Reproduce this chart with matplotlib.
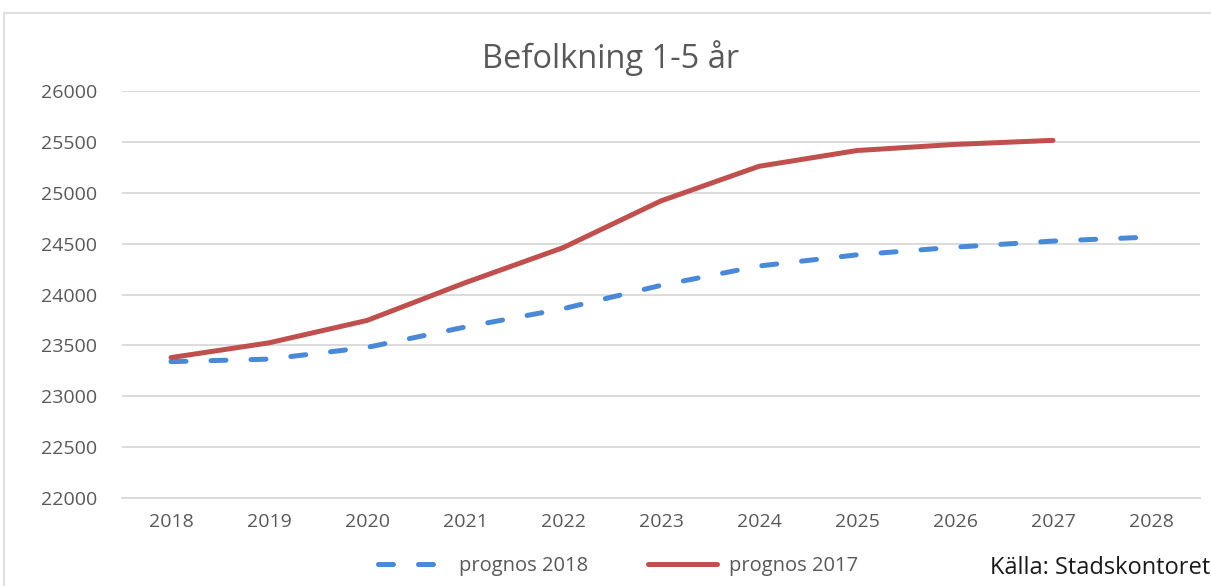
import matplotlib
matplotlib.use("Agg")
import matplotlib.pyplot as plt
from matplotlib.patches import Rectangle

years = ["2018", "2019", "2020", "2021", "2022", "2023", "2024", "2025", "2026", "2027", "2028"]
prognos_2018 = [23340, 23365, 23480, 23680, 23860, 24090, 24280, 24390, 24465, 24525, 24565]
prognos_2017 = [23380, 23525, 23745, 24115, 24460, 24920, 25260, 25415, 25475, 25515]
yticks = [22000, 22500, 23000, 23500, 24000, 24500, 25000, 25500, 26000]

W, H = 1211, 586
fig = plt.figure(figsize=(W / 100, H / 100), dpi=100)
plt.rcParams['font.family'] = ['Open Sans', 'DejaVu Sans']

# chart area frame
fig.patches.append(Rectangle((4 / W, -0.1), 1.2, 1 - 13 / H + 0.1, transform=fig.transFigure,
                             fill=False, edgecolor='#d9d9d9', lw=1.2))

ax = fig.add_axes([122 / W, 1 - 498 / H, (1200 - 122) / W, (498 - 91) / H])
x18 = list(range(len(prognos_2018)))
x17 = list(range(len(prognos_2017)))
ax.plot(x18, prognos_2018, color='#4a89d8', lw=3.6, linestyle=(0, (3, 5)),
        dash_capstyle='round', label='prognos 2018', zorder=3)
ax.plot(x17, prognos_2017, color='#c0504d', lw=3.6, solid_capstyle='round',
        label='prognos 2017', zorder=3)

ax.set_xlim(-0.5, len(years) - 0.5)
ax.set_ylim(22000, 26000)
ax.set_xticks(range(len(years)))
ax.set_xticklabels(years)
ax.set_yticks(yticks)
ax.set_yticklabels([str(v) for v in yticks])
ax.tick_params(length=0, labelsize=14, colors='#595959')
ax.tick_params(axis='x', pad=11)
ax.tick_params(axis='y', pad=18)
ax.grid(axis='y', color='#d9d9d9', lw=1.3)
ax.set_axisbelow(True)
for s in ['top', 'right', 'left']:
    ax.spines[s].set_visible(False)
ax.spines['bottom'].set_color('#d9d9d9')
ax.spines['bottom'].set_linewidth(1.3)

fig.text(611 / W, 1 - 58 / H, 'Befolkning 1-5 år', ha='center', va='center',
         fontsize=23.5, color='#595959')

leg = fig.legend(loc='center', bbox_to_anchor=(618 / W, 1 - 566 / H), ncol=2, frameon=False,
                 fontsize=14.5, handlelength=3.4, columnspacing=3.0, handletextpad=0.6)
for t in leg.get_texts():
    t.set_color('#595959')

fig.text(990 / W, 1 - 568 / H, 'Källa: Stadskontoret', ha='left', va='center',
         fontsize=17, color='#1a1a1a')

fig.savefig('out.png', dpi=100)
